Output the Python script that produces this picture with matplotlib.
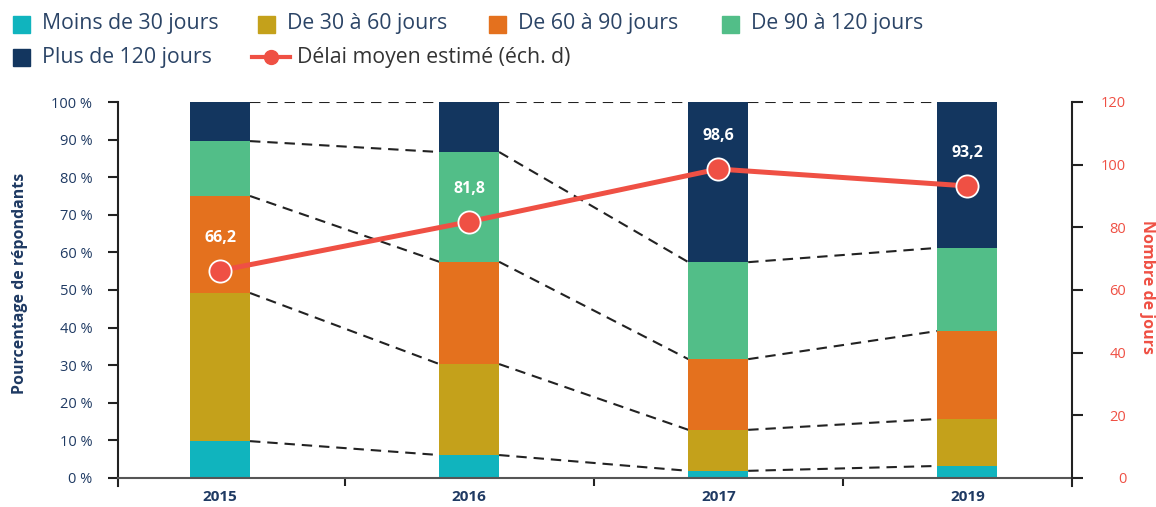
import matplotlib
matplotlib.use('Agg')
import matplotlib.pyplot as plt
from matplotlib.lines import Line2D
from matplotlib.patches import Rectangle
import numpy as np

years = ['2015', '2016', '2017', '2019']
categories = ['Moins de 30 jours', 'De 30 à 60 jours', 'De 60 à 90 jours',
              'De 90 à 120 jours', 'Plus de 120 jours']
moins30 = [9.8, 6.1, 1.9, 3.2]
de30_60 = [39.4, 24.2, 10.9, 12.5]
de60_90 = [25.8, 27.2, 18.8, 23.4]
de90_120 = [14.6, 29.2, 25.8, 22.1]
plus120 = [10.4, 13.3, 42.6, 38.8]
delai = [66.2, 81.8, 98.6, 93.2]
delai_labels = ['66,2', '81,8', '98,6', '93,2']
line_label = 'Délai moyen estimé (éch. d)'
left_label = 'Pourcentage de répondants'
right_label = 'Nombre de jours'

colors = ['#10B4BE', '#C4A11B', '#E4711E', '#52BE88', '#13365F']
red = '#EF5044'
navy = '#1F3A63'

plt.rcParams['font.family'] = ['Open Sans', 'DejaVu Sans']

W, H = 1156, 507
fig = plt.figure(figsize=(W / 100, H / 100), dpi=100)
ax = fig.add_axes([118 / W, 1 - 485.5 / H, (1072 - 118) / W, (485.5 - 102) / H])

x = np.arange(len(years))
bw = 0.24
series = [moins30, de30_60, de60_90, de90_120, plus120]
bottom = np.zeros(len(years))
tops = []
for vals, c in zip(series, colors):
    v = np.array(vals)
    ax.bar(x, v, bw, bottom=bottom, color=c, zorder=2, linewidth=0)
    bottom = bottom + v
    tops.append(bottom.copy())

# dashed connectors
for t in tops:
    for i in range(len(years) - 1):
        ax.plot([x[i] + bw / 2, x[i + 1] - bw / 2], [t[i], t[i + 1]],
                color='#222222', lw=1.5, dashes=(5, 3.3), zorder=1)

ax.set_xlim(-0.41, 3.42)
ax.set_ylim(-2, 100)
ax.spines['bottom'].set_position(('data', 0))
ax.spines['top'].set_visible(False)
ax.spines['right'].set_visible(False)
for s in ['left', 'bottom']:
    ax.spines[s].set_color('#222222')
    ax.spines[s].set_linewidth(1.5)
ax.spines['bottom'].set_color('#555555')

ax.set_yticks(np.arange(0, 101, 10))
ax.set_yticklabels([f'{v} %' for v in range(0, 101, 10)])
ax.tick_params(axis='y', length=7.5, width=1.5, color='#222222', pad=11,
               labelsize=10.5, labelcolor=navy)
ax.set_xticks(x)
ax.set_xticklabels(years, fontweight='bold')
ax.tick_params(axis='x', which='major', length=0, pad=9, labelsize=11, labelcolor=navy)
ax.set_xticks([0.5, 1.5, 2.5], minor=True)
ax.tick_params(axis='x', which='minor', length=6, width=1.5, color='#222222')

ax2 = ax.twinx()
ax2.set_ylim(-2.4, 120)
for s in ['top', 'bottom', 'left']:
    ax2.spines[s].set_visible(False)
ax2.spines['right'].set_color('#222222')
ax2.spines['right'].set_linewidth(1.5)
ax2.set_yticks(np.arange(0, 121, 20))
ax2.tick_params(axis='y', length=8, width=1.5, color='#222222', pad=31,
                labelsize=10.5, labelcolor=red)
for lab in ax2.get_yticklabels():
    lab.set_horizontalalignment('right')

ax2.plot(x, delai, color=red, lw=3.6, marker='o', markersize=16,
         markerfacecolor=red, markeredgecolor='white', markeredgewidth=1.3, zorder=5)
for xi, v, lab in zip(x, delai, delai_labels):
    ax2.annotate(lab, (xi, v), xytext=(0, 18), textcoords='offset points',
                 ha='center', va='bottom', color='white', fontweight='bold', fontsize=11.5)

fig.text(20 / W, 1 - 283 / H, left_label, rotation=90, ha='center', va='center',
         color=navy, fontweight='bold', fontsize=11.5)
fig.text(1147 / W, 1 - 287 / H, right_label, rotation=270, ha='center', va='center',
         color=red, fontweight='bold', fontsize=11.5)

# legend (manual layout)
leg_color = '#2B4466'
entries = [
    (13, 24, colors[0], categories[0]),
    (258, 24, colors[1], categories[1]),
    (489, 24, colors[2], categories[2]),
    (722, 24, colors[3], categories[3]),
    (13, 57, colors[4], categories[4]),
]
for px, py, c, lab in entries:
    fig.patches.append(Rectangle((px / W, 1 - (py + 8.5) / H), 17 / W, 17 / H,
                                 transform=fig.transFigure, color=c))
    fig.text((px + 29) / W, 1 - py / H, lab, ha='left', va='center',
             color=leg_color, fontsize=15.3)
fig.lines.append(Line2D([252 / W, 290 / W], [1 - 57 / H, 1 - 57 / H],
                        transform=fig.transFigure, color=red, lw=3))
fig.lines.append(Line2D([271 / W], [1 - 57 / H], transform=fig.transFigure,
                        color=red, marker='o', markersize=10, lw=0))
fig.text(297 / W, 1 - 57 / H, line_label, ha='left', va='center',
         color='#333333', fontsize=15.3)

fig.savefig('out.png', dpi=100)
